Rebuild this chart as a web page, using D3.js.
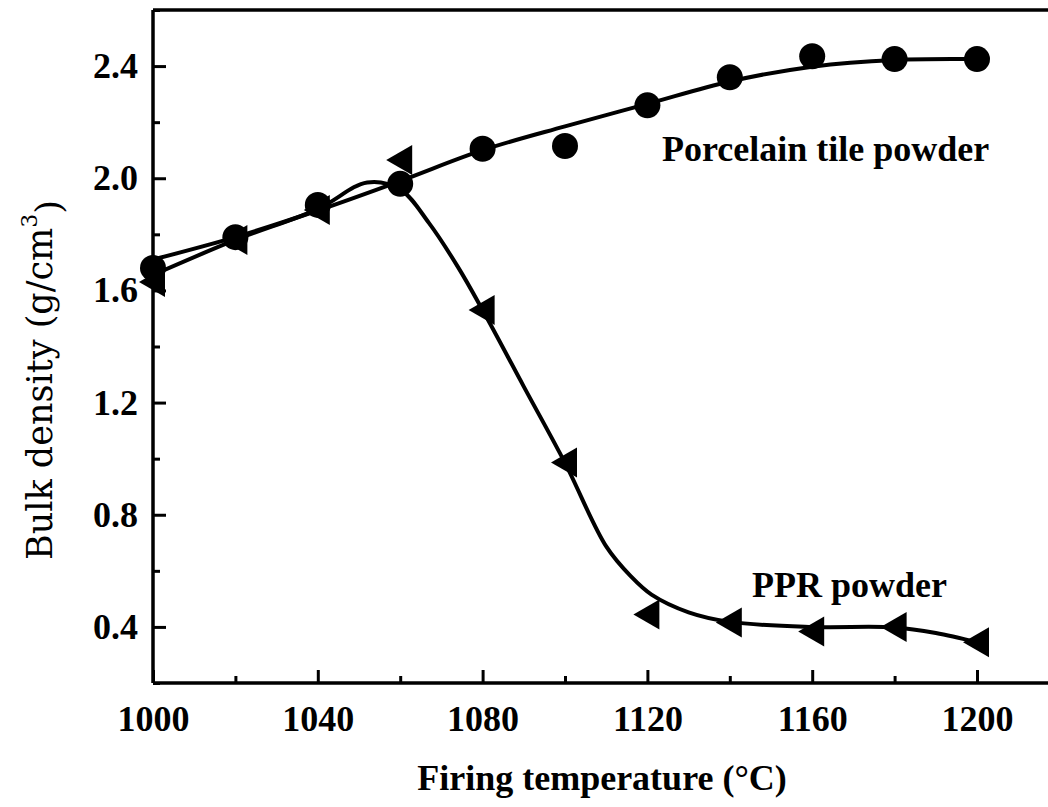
<!DOCTYPE html>
<html>
<head>
<meta charset="utf-8">
<script src="https://cdn.jsdelivr.net/npm/d3@7"></script>
<style>
  body { margin: 0; background: #fff; }
  svg { display: block; }
</style>
</head>
<body>
<svg id="chart" width="1048" height="807"></svg>
<script>
// Measured bulk density (g/cm3) at each firing temperature
const temperatures = [1000, 1020, 1040, 1060, 1080, 1100, 1120, 1140, 1160, 1180, 1200];
const porcelainDensity = [1.68, 1.79, 1.905, 1.98, 2.105, 2.115, 2.26, 2.36, 2.435, 2.425, 2.425];
const pprDensity = [1.63, 1.78, 1.887, 2.065, 1.53, 0.986, 0.444, 0.416, 0.384, 0.40, 0.345];

// Smoothed trend lines drawn through each series
const porcelainFitTemps = [1000, 1020, 1040, 1060, 1080, 1100, 1120, 1140, 1160, 1180, 1200];
const porcelainFit = [1.71, 1.79, 1.885, 1.99, 2.1, 2.185, 2.265, 2.345, 2.398, 2.422, 2.425];
const pprFitTemps = [1000, 1020, 1040, 1052, 1060, 1067, 1074, 1080, 1090, 1100, 1110, 1116, 1121, 1130, 1140, 1160, 1180, 1190, 1200];
const pprFit = [1.655, 1.78, 1.89, 1.985, 1.96, 1.84, 1.684, 1.53, 1.257, 0.985, 0.687, 0.58, 0.515, 0.452, 0.418, 0.40, 0.398, 0.378, 0.345];

// Axis ticks
const xMajorTicks = [1000, 1040, 1080, 1120, 1160, 1200];
const xMinorTicks = [1020, 1060, 1100, 1140, 1180];
const yMajorTicks = [0.4, 0.8, 1.2, 1.6, 2.0, 2.4];
const yMinorTicks = [0.2, 0.6, 1.0, 1.4, 1.8, 2.2, 2.6];

const svg = d3.select("#chart");
const W = 1048, H = 807;
svg.append("rect").attr("width", W).attr("height", H).attr("fill", "#fff");

const m = { left: 153, top: 10, bottom: 683 };
const x = d3.scaleLinear().domain([1000, 1220]).range([m.left, m.left + 220 * 4.12]);
const y = d3.scaleLinear().domain([0.2, 2.6]).range([m.bottom, m.top]);

const tickFont = "'Liberation Serif', 'Times New Roman', serif";

// Frame: left, top and bottom edges of the plot box
const frame = svg.append("g").attr("fill", "none").attr("stroke", "#000").attr("stroke-width", 3.5);
frame.append("line").attr("x1", x(1000)).attr("x2", x(1000)).attr("y1", y(2.6)).attr("y2", y(0.2));
frame.append("line").attr("x1", x(1000)).attr("x2", x(1220)).attr("y1", y(0.2)).attr("y2", y(0.2));
frame.append("line").attr("x1", x(1000)).attr("x2", x(1220)).attr("y1", y(2.6)).attr("y2", y(2.6));

function styleAxis(g) {
  g.select(".domain").remove();
  g.selectAll(".tick line").attr("stroke", "#000").attr("stroke-width", 3);
  g.selectAll("text")
    .attr("fill", "#000")
    .style("font-family", tickFont)
    .style("font-weight", "bold")
    .style("font-size", "36px");
}

// Bottom axis: inward ticks
svg.append("g")
  .attr("transform", `translate(0,${y(0.2)})`)
  .call(d3.axisBottom(x).tickValues(xMajorTicks).tickSize(-13).tickPadding(22).tickFormat(d3.format("d")))
  .call(styleAxis)
  .call(g => g.selectAll("text").attr("dy", "0.71em"));
svg.append("g")
  .attr("transform", `translate(0,${y(0.2)})`)
  .call(d3.axisBottom(x).tickValues(xMinorTicks).tickSize(-7).tickFormat(""))
  .call(styleAxis);

// Left axis: inward ticks
svg.append("g")
  .attr("transform", `translate(${x(1000)},0)`)
  .call(d3.axisLeft(y).tickValues(yMajorTicks).tickSize(-13).tickPadding(15).tickFormat(d3.format(".1f")))
  .call(styleAxis);
svg.append("g")
  .attr("transform", `translate(${x(1000)},0)`)
  .call(d3.axisLeft(y).tickValues(yMinorTicks).tickSize(-7).tickFormat(""))
  .call(styleAxis);

// Trend lines
const line = d3.line().x(d => x(d[0])).y(d => y(d[1])).curve(d3.curveCatmullRom.alpha(0.5));
svg.append("path")
  .datum(porcelainFitTemps.map((t, i) => [t, porcelainFit[i]]))
  .attr("d", line).attr("fill", "none").attr("stroke", "#000").attr("stroke-width", 4);
svg.append("path")
  .datum(pprFitTemps.map((t, i) => [t, pprFit[i]]))
  .attr("d", line).attr("fill", "none").attr("stroke", "#000").attr("stroke-width", 4);

// Markers: filled circles for porcelain tile, left-pointing triangles for PPR
svg.append("g").selectAll("circle")
  .data(temperatures.map((t, i) => [t, porcelainDensity[i]]))
  .join("circle")
  .attr("cx", d => x(d[0])).attr("cy", d => y(d[1])).attr("r", 13).attr("fill", "#000");

svg.append("g").selectAll("path")
  .data(temperatures.map((t, i) => [t, pprDensity[i]]))
  .join("path")
  .attr("transform", d => `translate(${x(d[0])},${y(d[1])})`)
  .attr("d", "M-14,0L12,-15L12,15Z")
  .attr("fill", "#000");

// Series annotations
svg.append("text")
  .attr("x", 662).attr("y", 161)
  .style("font-family", tickFont).style("font-weight", "bold").style("font-size", "36px")
  .text("Porcelain tile powder");
svg.append("text")
  .attr("x", 752).attr("y", 597)
  .style("font-family", tickFont).style("font-weight", "bold").style("font-size", "36px")
  .text("PPR powder");

// Axis titles
svg.append("text")
  .attr("x", 602).attr("y", 790).attr("text-anchor", "middle")
  .style("font-family", tickFont).style("font-weight", "bold").style("font-size", "36px")
  .text("Firing temperature (°C)");

const yTitle = svg.append("text")
  .attr("transform", "translate(52,380) rotate(-90)")
  .attr("text-anchor", "middle")
  .style("font-family", "'DejaVu Serif', serif").style("font-size", "35px");
yTitle.append("tspan").text("Bulk density (g/cm");
yTitle.append("tspan").attr("dy", "-0.7em").style("font-size", "22px").text("3");
yTitle.append("tspan").attr("dy", "0.7em").text(")");
</script>
</body>
</html>
